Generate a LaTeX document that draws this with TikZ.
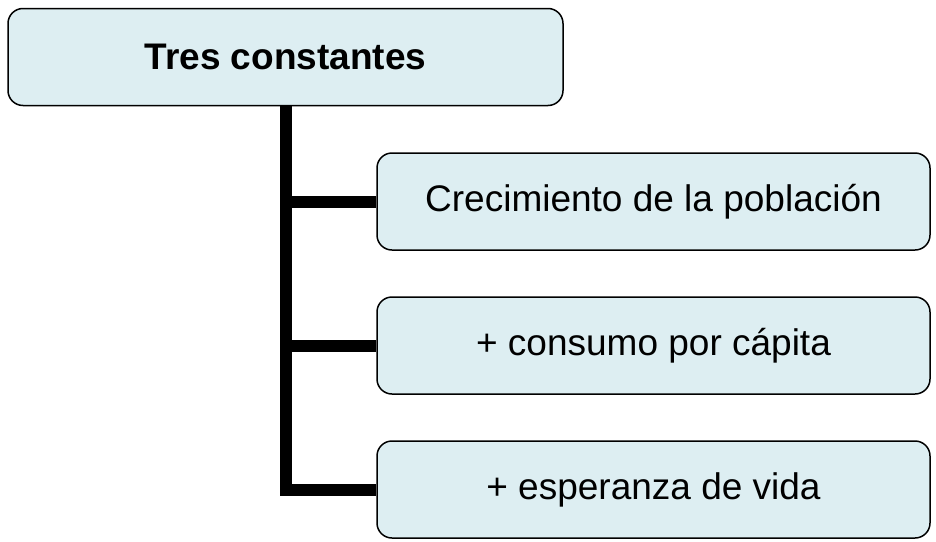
\documentclass[tikz,border=0pt]{standalone}
\usepackage{fontspec}
\setmainfont{Liberation Sans}
\usetikzlibrary{backgrounds}
\definecolor{boxfill}{HTML}{DDEEF2}
\begin{document}
\begin{tikzpicture}[x=1pt,y=-1pt,
  box/.style={draw=black, line width=1.5pt, fill=boxfill, rounded corners=15pt,
    inner sep=0pt, minimum height=97pt, font=\fontsize{37}{44}\selectfont},
  topbox/.style={box, minimum width=555pt, font=\fontsize{37}{44}\selectfont\bfseries},
  childbox/.style={box, minimum width=553pt},
  conn/.style={draw=black, line width=12pt}]
\useasboundingbox (0,0) rectangle (936,541);
\node[topbox] (top) at (285.5,57) {Tres constantes};
\node[childbox] (c1) at (653.5,201.5) {Crecimiento de la población};
\node[childbox] (c2) at (653.5,345.5) {+ consumo por cápita};
\node[childbox] (c3) at (653.5,489.5) {+ esperanza de vida};
\begin{scope}[on background layer]
\draw[conn] (top.south) |- (c3.west);
\draw[conn] (top.south |- c1.west) -- (c1.west);
\draw[conn] (top.south |- c2.west) -- (c2.west);
\end{scope}
\end{tikzpicture}
\end{document}
